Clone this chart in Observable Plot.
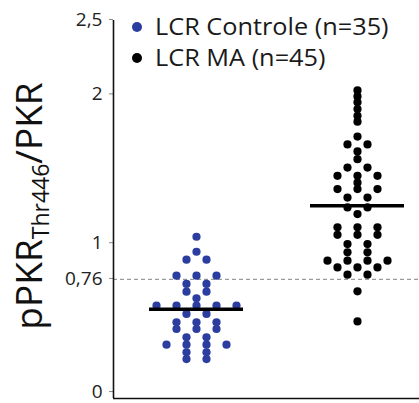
<!DOCTYPE html>
<html>
<head>
<meta charset="utf-8">
<script src="https://cdn.jsdelivr.net/npm/d3@7"></script>
<script src="https://cdn.jsdelivr.net/npm/@observablehq/plot@0.6"></script>
<style>
  html, body { margin: 0; padding: 0; background: #fff; }
  #wrap { position: relative; width: 419px; height: 403px; font-family: "Open Sans", sans-serif; }
  #legend { position: absolute; left: 132px; top: 11px; }
  .row { display: flex; align-items: center; height: 31px; }
  .sw { width: 10px; height: 10px; border-radius: 50%; margin-right: 13px; flex: none; }
  .lab { display: inline-block; font-size: 23px; line-height: 31px; color: #1a1a1a; white-space: nowrap;
         transform: scaleX(1.1); transform-origin: left center; }
</style>
</head>
<body>
<div id="wrap"></div>
<script>
// ---- data ----
const groups = ["LCR Controle (n=35)", "LCR MA (n=45)"];
const groupColors = ["#2b3d9f", "#000000"];
const controleValues = [
  1.047, 0.946, 0.893, 0.893, 0.785, 0.785, 0.785, 0.73, 0.73, 0.678, 0.678, 0.633,
  0.584, 0.584, 0.584, 0.584, 0.584, 0.528, 0.528, 0.472, 0.472, 0.472,
  0.427, 0.427, 0.427, 0.371, 0.371, 0.322, 0.322, 0.322, 0.322,
  0.27, 0.27, 0.225, 0.225
];
const maValues = [
  2.03, 1.99, 1.95, 1.905, 1.86, 1.82, 1.72, 1.667, 1.667, 1.62, 1.568,
  1.512, 1.512, 1.456, 1.456, 1.456, 1.41, 1.367, 1.367, 1.367, 1.31, 1.31,
  1.244, 1.244, 1.199, 1.11, 1.11, 1.11, 1.06, 1.06, 1.06, 0.998, 0.998,
  0.942, 0.942, 0.886, 0.886, 0.886, 0.886, 0.841, 0.841, 0.841,
  0.792, 0.792, 0.68, 0.478
];
const medians = [0.56, 1.255];
const threshold = 0.76;
const yTicks = [0, 0.76, 1, 2, 2.5];
const yTickLabels = ["0", "0,76", "1", "2", "2,5"];

// ---- layout ----
const W = 419, H = 403;
const pxPerGroup = 161;      // distance between group centres (px)
const rowStep = 20;          // horizontal step between dots sharing a row (px)
const medianHalf = 47;       // half-width of median bar (px)
const xDomain = [-83 / pxPerGroup, 1 + 62 / pxPerGroup];
const yDomain = [-0.04, 2.5];

// swarm layout: dots with equal value share a row, centred on the group
const points = [];
[controleValues, maValues].forEach((vals, gi) => {
  const rows = d3.group(vals, v => v);
  for (const [v, arr] of rows) {
    const n = arr.length;
    arr.forEach((_, i) => {
      points.push({ group: groups[gi], gi, value: v, x: gi + ((i - (n - 1) / 2) * rowStep) / pxPerGroup });
    });
  }
});
const medianRows = medians.map((m, gi) => ({ gi, value: m }));

const chart = Plot.plot({
  width: W,
  height: H,
  marginLeft: 113,
  marginRight: 0,
  marginTop: 20,
  marginBottom: 5,
  style: { fontFamily: "Open Sans", fontSize: "19px", background: "white", color: "#222" },
  x: { domain: xDomain, axis: null },
  y: { domain: yDomain, axis: null },
  marks: [
    Plot.ruleY([threshold], { stroke: "#9a9a9a", strokeWidth: 1.3, strokeDasharray: "4,3" }),
    Plot.axisY({
      ticks: yTicks,
      tickFormat: d => yTickLabels[yTicks.indexOf(d)],
      tickSize: 4,
      tickPadding: 7,
      stroke: "#888",
      fill: "#222",
      fontSize: 19,
      label: null,
      dy: -1
    }),
    Plot.ruleX([xDomain[0]], { stroke: "#111", strokeWidth: 1.6 }),
    Plot.ruleY([yDomain[0]], { stroke: "#111", strokeWidth: 1.6 }),
    Plot.dot(points, { x: "x", y: "value", r: 4.1, fill: d => groupColors[d.gi], stroke: "none" }),
    Plot.ruleY(medianRows, {
      y: "value",
      x1: d => d.gi - medianHalf / pxPerGroup,
      x2: d => d.gi + medianHalf / pxPerGroup,
      stroke: "#000",
      strokeWidth: 3.5
    })
  ]
});

const wrap = document.getElementById("wrap");
wrap.appendChild(chart);

// y-axis title with subscript
const svg = d3.select(chart);
const t = svg.append("text")
  .attr("transform", `translate(42,206) rotate(-90)`)
  .attr("text-anchor", "middle")
  .attr("font-family", "Open Sans")
  .attr("font-size", 37)
  .attr("fill", "#111");
t.append("tspan").text("pPKR");
t.append("tspan").attr("font-size", 23).attr("dy", 7).text("Thr446");
t.append("tspan").attr("dy", -7).text("/PKR");

// legend
const legend = document.createElement("div");
legend.id = "legend";
groups.forEach((g, i) => {
  const row = document.createElement("div");
  row.className = "row";
  const sw = document.createElement("span");
  sw.className = "sw";
  sw.style.background = groupColors[i];
  const lab = document.createElement("span");
  lab.className = "lab";
  lab.textContent = g;
  row.appendChild(sw);
  row.appendChild(lab);
  legend.appendChild(row);
});
wrap.appendChild(legend);
</script>
</body>
</html>
